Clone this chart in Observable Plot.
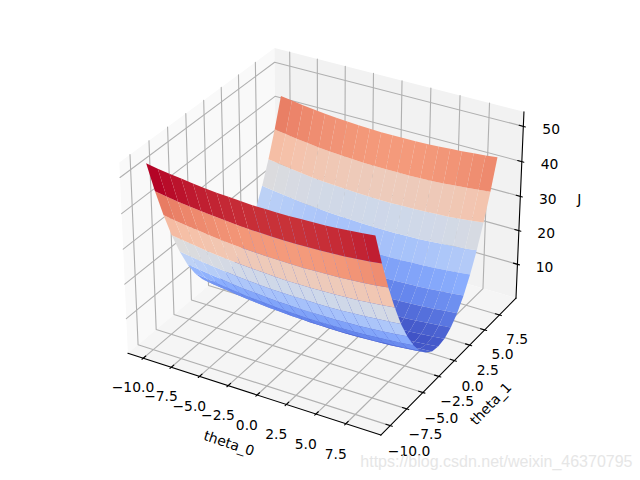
<!DOCTYPE html>
<html><head><meta charset="utf-8">
<script src="https://cdn.jsdelivr.net/npm/d3@7"></script>
<script src="https://cdn.jsdelivr.net/npm/@observablehq/plot@0.6"></script>
<style>html,body{margin:0;background:#fff}svg{display:block}</style></head><body><script>
const theta0=[-10,-9,-8,-7,-6,-5,-4,-3,-2,-1,0,1,2,3,4,5,6,7,8,9];
const theta1=[-10,-9,-8,-7,-6,-5,-4,-3,-2,-1,0,1,2,3,4,5,6,7,8,9];
// J: one row per theta_1, one column per theta_0
const J=[
[53.0,52.4,51.9,51.5,51.1,50.7,50.4,50.2,50.0,49.8,49.8,49.7,49.7,49.8,49.9,50.0,50.2,50.5,50.8,51.1],
[43.7,43.1,42.6,42.2,41.8,41.5,41.2,40.9,40.7,40.6,40.5,40.4,40.4,40.5,40.6,40.7,40.9,41.2,41.5,41.9],
[35.4,34.8,34.3,33.9,33.5,33.1,32.8,32.6,32.4,32.3,32.2,32.1,32.1,32.2,32.3,32.4,32.6,32.9,33.2,33.6],
[28.0,27.5,27.0,26.5,26.1,25.8,25.5,25.3,25.1,24.9,24.8,24.8,24.8,24.9,25.0,25.1,25.3,25.6,25.9,26.3],
[21.6,21.1,20.6,20.2,19.8,19.4,19.1,18.9,18.7,18.6,18.5,18.5,18.5,18.5,18.6,18.8,19.0,19.3,19.6,19.9],
[16.2,15.7,15.2,14.8,14.4,14.0,13.8,13.5,13.3,13.2,13.1,13.1,13.1,13.1,13.3,13.4,13.6,13.9,14.2,14.6],
[11.8,11.3,10.8,10.4,10.0,9.6,9.4,9.1,8.9,8.8,8.7,8.7,8.7,8.8,8.9,9.0,9.3,9.5,9.8,10.2],
[8.4,7.8,7.4,6.9,6.5,6.2,5.9,5.7,5.5,5.4,5.3,5.3,5.3,5.4,5.5,5.6,5.9,6.1,6.4,6.8],
[5.9,5.4,4.9,4.5,4.1,3.7,3.5,3.2,3.1,2.9,2.9,2.8,2.8,2.9,3.0,3.2,3.4,3.7,4.0,4.4],
[4.4,3.9,3.4,3.0,2.6,2.3,2.0,1.8,1.6,1.5,1.4,1.4,1.4,1.5,1.6,1.8,2.0,2.2,2.6,2.9],
[3.9,3.4,2.9,2.5,2.1,1.8,1.5,1.3,1.1,1.0,0.9,0.9,0.9,1.0,1.1,1.3,1.5,1.8,2.1,2.5],
[4.4,3.8,3.4,2.9,2.6,2.3,2.0,1.8,1.6,1.5,1.4,1.4,1.4,1.5,1.6,1.8,2.0,2.3,2.6,3.0],
[5.8,5.3,4.8,4.4,4.0,3.7,3.4,3.2,3.0,2.9,2.9,2.8,2.9,2.9,3.1,3.2,3.5,3.8,4.1,4.5],
[8.2,7.7,7.2,6.8,6.5,6.1,5.9,5.7,5.5,5.4,5.3,5.3,5.3,5.4,5.5,5.7,5.9,6.2,6.6,6.9],
[11.6,11.1,10.6,10.2,9.9,9.5,9.3,9.1,8.9,8.8,8.7,8.7,8.7,8.8,9.0,9.1,9.4,9.7,10.0,10.4],
[16.0,15.5,15.0,14.6,14.2,13.9,13.7,13.4,13.3,13.2,13.1,13.1,13.1,13.2,13.4,13.5,13.8,14.1,14.4,14.8],
[21.3,20.8,20.4,20.0,19.6,19.3,19.0,18.8,18.7,18.6,18.5,18.5,18.5,18.6,18.7,18.9,19.2,19.5,19.8,20.2],
[27.7,27.2,26.7,26.3,25.9,25.6,25.4,25.2,25.0,24.9,24.8,24.8,24.9,25.0,25.1,25.3,25.5,25.8,26.2,26.6],
[35.0,34.5,34.0,33.6,33.2,32.9,32.7,32.5,32.3,32.2,32.2,32.2,32.2,32.3,32.4,32.6,32.9,33.2,33.5,33.9],
[43.3,42.8,42.3,41.9,41.5,41.2,41.0,40.8,40.6,40.5,40.5,40.5,40.5,40.6,40.8,41.0,41.2,41.5,41.8,42.2]];
const xTicks=[-10,-7.5,-5,-2.5,0,2.5,5,7.5], yTicks=[-10,-7.5,-5,-2.5,0,2.5,5,7.5], zTicks=[10,20,30,40,50];
const xTickLabels=["\u221210.0","\u22127.5","\u22125.0","\u22122.5","0.0","2.5","5.0","7.5"];
const yTickLabels=xTickLabels, zTickLabels=["10","20","30","40","50"];
const stops=["#3b4cc0","#6485ec","#8db0fe","#bfd3f6","#dddcdc","#f5c2aa","#f49a7b","#dc5d4a","#b40426"];

const flat=J.flat(), zd=d3.extent(flat);
const pad=([a,b])=>[a-.05*(b-a),b+.05*(b-a)];
const lims=[pad(d3.extent(theta0)),pad(d3.extent(theta1)),zd];
const box=lims.map(([a,b])=>[a-(b-a)/48,b+(b-a)/48]);
const deltas=lims.map(([a,b])=>(b-a)/12);
const asp=[1.065,1.065,.8];
const rel=30*Math.PI/180, raz=-60*Math.PI/180, dist=10;
const R=asp.map(a=>a/2);
const n=[Math.cos(raz)*Math.cos(rel),Math.sin(raz)*Math.cos(rel),Math.sin(rel)];
const E=R.map((r,i)=>r+dist*n[i]);
const cross=(a,b)=>[a[1]*b[2]-a[2]*b[1],a[2]*b[0]-a[0]*b[2],a[0]*b[1]-a[1]*b[0]];
const norm=v=>{const l=Math.hypot(...v);return v.map(c=>c/l)};
const u=norm(cross([0,0,1],n)), v=cross(n,u);
const dot=(a,b)=>a[0]*b[0]+a[1]*b[1]+a[2]*b[2];
function proj(p){const w=p.map((c,i)=>asp[i]*(c-lims[i][0])/(lims[i][1]-lims[i][0])-E[i]);const d=-dot(n,w);return {x:dot(u,w)/d,y:dot(v,w)/d,d}}
const xb=box[0],yb=box[1],zb=box[2];
const pts=(id,ps,extra={})=>ps.map(p=>({id,...proj(p),...extra}));
const panes=[
 ...pts("px",[[xb[0],yb[0],zb[0]],[xb[0],yb[1],zb[0]],[xb[0],yb[1],zb[1]],[xb[0],yb[0],zb[1]]],{f:"#f9f9f9"}),
 ...pts("py",[[xb[0],yb[1],zb[0]],[xb[1],yb[1],zb[0]],[xb[1],yb[1],zb[1]],[xb[0],yb[1],zb[1]]],{f:"#f2f2f2"}),
 ...pts("pz",[[xb[0],yb[0],zb[0]],[xb[1],yb[0],zb[0]],[xb[1],yb[1],zb[0]],[xb[0],yb[1],zb[0]]],{f:"#f5f5f5"})];
const grid=[
 ...xTicks.flatMap(t=>pts("gx"+t,[[t,yb[0],zb[0]],[t,yb[1],zb[0]],[t,yb[1],zb[1]]])),
 ...yTicks.flatMap(t=>pts("gy"+t,[[xb[1],t,zb[0]],[xb[0],t,zb[0]],[xb[0],t,zb[1]]])),
 ...zTicks.flatMap(t=>pts("gz"+t,[[xb[0],yb[0],t],[xb[0],yb[1],t],[xb[1],yb[1],t]]))];
const axes=[
 ...pts("ax",[[xb[0],yb[0],zb[0]],[xb[1],yb[0],zb[0]]]),
 ...pts("ay",[[xb[1],yb[0],zb[0]],[xb[1],yb[1],zb[0]]]),
 ...pts("az",[[xb[1],yb[1],zb[0]],[xb[1],yb[1],zb[1]]])];
const O=.1,I=.2;
const ticks=[
 ...xTicks.flatMap(t=>pts("tx"+t,[[t,yb[0]-O*deltas[1],zb[0]],[t,yb[0]+I*deltas[1],zb[0]]])),
 ...yTicks.flatMap(t=>pts("ty"+t,[[xb[1]+O*deltas[0],t,zb[0]],[xb[1]-I*deltas[0],t,zb[0]]])),
 ...zTicks.flatMap(t=>pts("tz"+t,[[xb[1]+O*deltas[0],yb[1],t],[xb[1]-I*deltas[0],yb[1],t]]))];
const dpp=48/(72*(4.96+3.744));
const tl=(3.5+8)*dpp, al=(4+21)*dpp;
const labels=[
 ...xTicks.map((t,i)=>({s:xTickLabels[i],...proj([t,yb[0]-tl*deltas[1],zb[0]-tl*deltas[2]])})),
 ...yTicks.map((t,i)=>({s:yTickLabels[i],...proj([xb[1]+tl*deltas[0],t,zb[0]-tl*deltas[2]])}))];
const zLabels=zTicks.map((t,i)=>({s:zTickLabels[i],...proj([xb[1]+tl*deltas[0],yb[1]+tl*deltas[1],t])}));
const cx=(xb[0]+xb[1])/2,cy=(yb[0]+yb[1])/2,cz=(zb[0]+zb[1])/2;
const axisLabels=[
 {s:"theta_0",r:18.5,...proj([cx,yb[0]-al*deltas[1],zb[0]-al*deltas[2]])},
 {s:"theta_1",r:-46,...proj([xb[1]+al*deltas[0],cy,zb[0]-al*deltas[2]])},
 {s:"J",r:0,...proj([xb[1]+al*deltas[0],yb[1]+al*deltas[1],cz])}];
const quads=[];
for(let i=0;i<theta1.length-1;i++)for(let j=0;j<theta0.length-1;j++){
 const c=[[i,j],[i,j+1],[i+1,j+1],[i+1,j]];
 const P=c.map(([a,b])=>proj([theta0[b],theta1[a],J[a][b]]));
 quads.push({id:i*100+j,P,c:d3.mean(c,([a,b])=>J[a][b]),d:d3.mean(P,p=>p.d)});
}
quads.sort((a,b)=>b.d-a.d);
const surf=quads.flatMap(q=>q.P.map(p=>({id:q.id,x:p.x,y:p.y,c:q.c})));
const ce=d3.extent(quads,q=>q.c);
const txt={fontFamily:"DejaVu Sans",fontSize:13.89,fill:"#000",textAnchor:"middle"};
const chart=Plot.plot({width:640,height:480,margin:0,style:{background:"#fff"},
 x:{domain:[-.095,.09],range:[76.5,560],axis:null},
 y:{domain:[-.095,.09],range:[480.4,-2.5],axis:null},
 color:{type:"linear",domain:stops.map((_,i)=>ce[0]+i/8*(ce[1]-ce[0])),range:stops},
 marks:[
  Plot.line(panes,{x:"x",y:"y",z:"id",fill:d=>d.f,stroke:"none"}),
  Plot.line(grid,{x:"x",y:"y",z:"id",stroke:"#b0b0b0",strokeWidth:1.11}),
  Plot.line(axes,{x:"x",y:"y",z:"id",stroke:"#000",strokeWidth:1.11}),
  Plot.line(ticks,{x:"x",y:"y",z:"id",stroke:"#000",strokeWidth:1.11}),
  Plot.line(surf,{x:"x",y:"y",z:"id",fill:"c",stroke:"none"}),
  Plot.text(labels,{x:"x",y:"y",text:"s",dx:.5,dy:7,...txt}),
  Plot.text(zLabels,{x:"x",y:"y",text:"s",dx:.5,dy:6.5,...txt}),
  Plot.text(axisLabels,{x:"x",y:"y",text:"s",rotate:"r",dx:1,...txt}),
  Plot.text(["https://blog.csdn.net/weixin_46370795"],{frameAnchor:"bottom-right",dx:-8,dy:-14,fontFamily:"Liberation Sans",fontSize:16,fill:"#e6e6e6"})
 ]});
document.body.append(chart);
</script></body></html>
